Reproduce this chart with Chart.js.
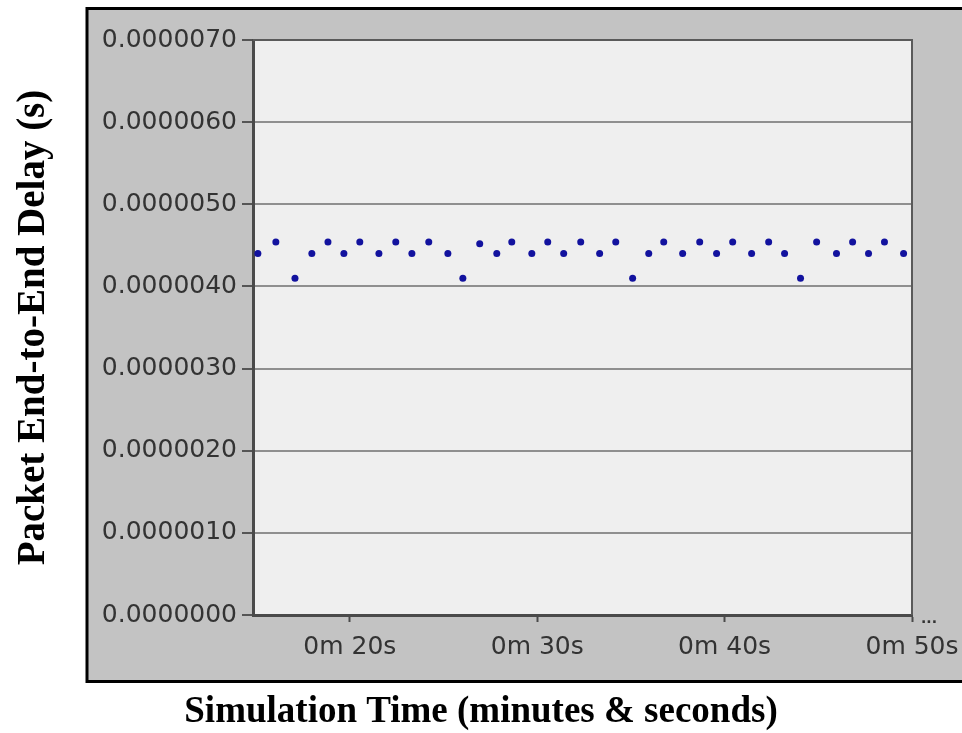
<!DOCTYPE html>
<html>
<head>
<meta charset="utf-8">
<script src="https://cdn.jsdelivr.net/npm/chart.js@4.4.1/dist/chart.umd.min.js"></script>
<style>
  html, body { margin: 0; padding: 0; background: #ffffff; }
  canvas { display: block; }
</style>
</head>
<body>
<canvas id="delayChart" width="962" height="733"></canvas>
<script>
// Sample times (seconds) of each packet delay statistic
const sampleTimes = [
  15.09, 16.05, 17.07, 17.97, 18.83, 19.68, 20.53, 21.55, 22.45, 23.31,
  24.21, 25.23, 26.03, 26.93, 27.84, 28.64, 29.71, 30.56, 31.41, 32.32,
  33.33, 34.19, 35.09, 35.95, 36.75, 37.76, 38.67, 39.57, 40.43, 41.44,
  42.35, 43.20, 44.05, 44.91, 45.97, 46.83, 47.68, 48.53, 49.55
];

// Packet end-to-end delay (seconds)
const endToEndDelay = [
  0.00000440, 0.00000454, 0.00000410, 0.00000440, 0.00000454, 0.00000440, 0.00000454, 0.00000440, 0.00000454, 0.00000440,
  0.00000454, 0.00000440, 0.00000410, 0.00000452, 0.00000440, 0.00000454, 0.00000440, 0.00000454, 0.00000440, 0.00000454,
  0.00000440, 0.00000454, 0.00000410, 0.00000440, 0.00000454, 0.00000440, 0.00000454, 0.00000440, 0.00000454, 0.00000440,
  0.00000454, 0.00000440, 0.00000410, 0.00000454, 0.00000440, 0.00000454, 0.00000440, 0.00000454, 0.00000440
];

// Axis ticks
const xTickValues = [20, 30, 40, 50];
const yTickValues = [0, 0.000001, 0.000002, 0.000003, 0.000004, 0.000005, 0.000006, 0.000007];

const xRange = [14.83, 50];
const xTitle = 'Simulation Time (minutes & seconds)';
const yTitle = 'Packet End-to-End Delay (s)';

const tickFont = { family: '"DejaVu Sans", sans-serif', size: 25 };
const titleFamily = '"Liberation Serif", "Times New Roman", serif';

// Grey instrument panel behind the plot, plus frame and overflow marker
const panelPlugin = {
  id: 'panel',
  beforeDraw(chart) {
    const { ctx, chartArea: a } = chart;
    ctx.save();
    ctx.fillStyle = '#ffffff';
    ctx.fillRect(0, 0, chart.width, chart.height);
    ctx.fillStyle = '#c3c3c3';
    ctx.fillRect(87, 8, 900, 674);
    ctx.lineWidth = 3;
    ctx.strokeStyle = '#000000';
    ctx.strokeRect(87, 8.5, 900, 673);
    ctx.fillStyle = '#efefef';
    ctx.fillRect(a.left, a.top, a.right - a.left, a.bottom - a.top);
    ctx.restore();
  },
  beforeDatasetsDraw(chart) {
    const { ctx, chartArea: a } = chart;
    ctx.save();
    ctx.strokeStyle = '#5a5a5a';
    ctx.lineWidth = 2;
    ctx.beginPath();
    ctx.moveTo(a.left, a.top);
    ctx.lineTo(a.right, a.top);
    ctx.lineTo(a.right, a.bottom);
    ctx.stroke();
    ctx.restore();
  },
  afterDraw(chart) {
    const { ctx, chartArea: a } = chart;
    ctx.save();
    ctx.fillStyle = '#333333';
    ctx.font = 'bold 14px "DejaVu Sans", sans-serif';
    ctx.textAlign = 'left';
    ctx.textBaseline = 'middle';
    ctx.fillText('...', a.right + 9, a.bottom + 4);
    ctx.restore();
  }
};

new Chart(document.getElementById('delayChart'), {
  type: 'scatter',
  data: {
    datasets: [{
      data: sampleTimes.map((t, i) => ({ x: t, y: endToEndDelay[i] })),
      pointStyle: 'circle',
      pointRadius: 3.5,
      pointBorderWidth: 0,
      backgroundColor: '#12129e',
      borderColor: '#12129e'
    }]
  },
  options: {
    responsive: false,
    animation: false,
    devicePixelRatio: 1,
    layout: { padding: { top: 40, right: 0, left: 0, bottom: 0 } },
    plugins: {
      legend: { display: false },
      tooltip: { enabled: false },
      title: {
        display: true,
        position: 'bottom',
        text: xTitle,
        color: '#000000',
        font: { family: titleFamily, size: 37, weight: 'bold', lineHeight: 1.1 },
        padding: { top: 0, bottom: 0 }
      }
    },
    scales: {
      x: {
        type: 'linear',
        min: xRange[0],
        max: xRange[1],
        afterBuildTicks(scale) { scale.ticks = xTickValues.map(v => ({ value: v })); },
        afterFit(scale) {
          scale.height = 77.3;
          scale.paddingLeft = 0;
          scale.paddingRight = 50;
        },
        border: { display: true, color: '#4a4a4a', width: 3 },
        grid: { drawOnChartArea: false, drawTicks: true, tickLength: 7, tickColor: '#4a4a4a', tickWidth: 2 },
        ticks: {
          autoSkip: false,
          maxRotation: 0,
          padding: 10,
          color: '#333333',
          font: tickFont,
          callback: v => '0m ' + v + 's'
        }
      },
      y: {
        type: 'linear',
        min: yTickValues[0],
        max: yTickValues[yTickValues.length - 1],
        afterBuildTicks(scale) { scale.ticks = yTickValues.map(v => ({ value: v })); },
        afterFit(scale) { scale.width = 253; },
        border: { display: true, color: '#4a4a4a', width: 3 },
        grid: { color: '#8f8f8f', lineWidth: 2, drawTicks: true, tickLength: 11, tickColor: '#555555', tickWidth: 2 },
        ticks: {
          padding: 5,
          color: '#333333',
          font: tickFont,
          callback: v => Number(v).toFixed(7)
        },
        title: {
          display: true,
          text: yTitle,
          color: '#000000',
          font: { family: titleFamily, size: 39, weight: 'bold' },
          padding: { top: 11, bottom: 0 }
        }
      }
    }
  },
  plugins: [panelPlugin]
});
</script>
</body>
</html>
